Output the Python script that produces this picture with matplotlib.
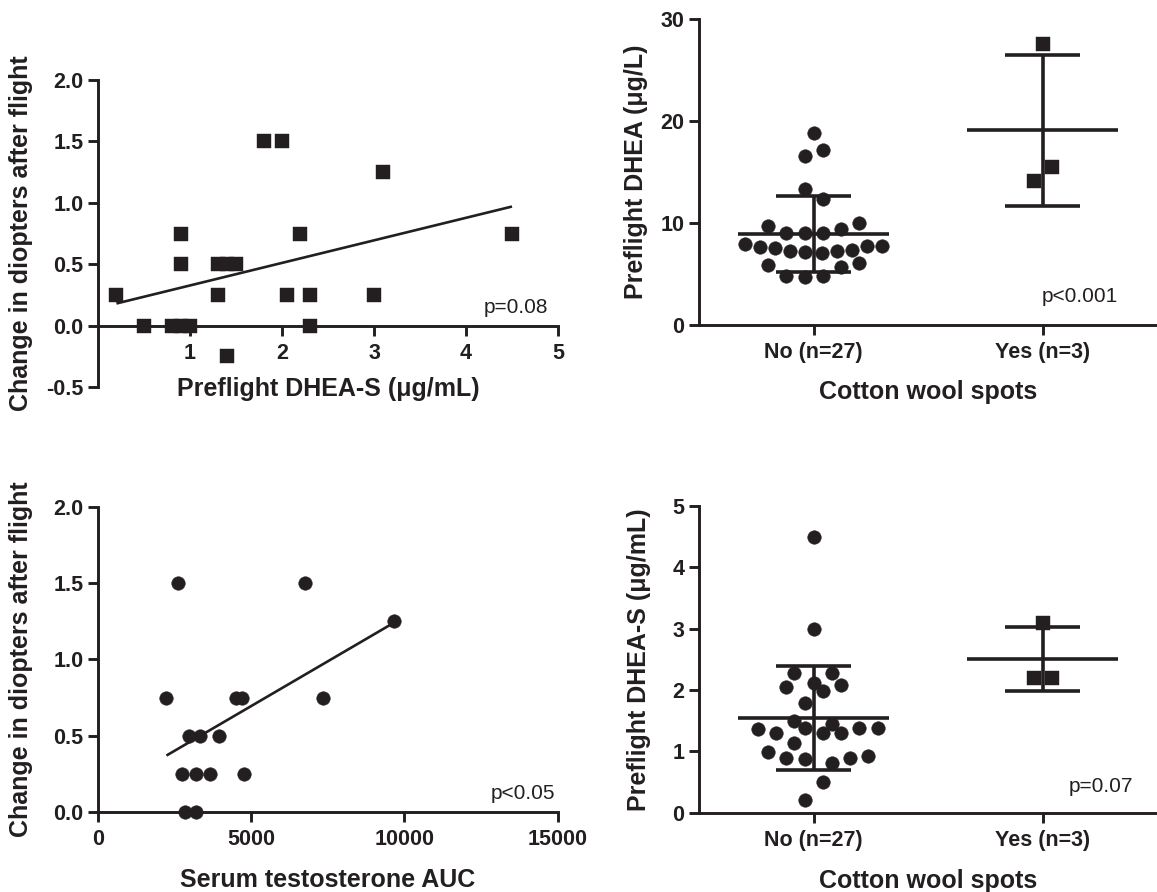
import numpy as np
import matplotlib
matplotlib.use("Agg")
import matplotlib.pyplot as plt
from matplotlib.ticker import FormatStrFormatter

plt.rcParams['font.family'] = ['Liberation Sans', 'DejaVu Sans']
plt.rcParams['axes.unicode_minus'] = False

INK = '#231f20'

# ---------------- data ----------------
# Panel A: Preflight DHEA-S vs change in diopters
dheas_x = [0.2, 0.5, 0.8, 0.9, 1.0, 0.9, 0.9, 1.3, 1.4, 1.5, 1.3, 1.4,
           1.8, 2.0, 2.2, 2.05, 2.3, 2.3, 3.0, 3.1, 4.5]
dheas_dy = [0.25, 0.0, 0.0, 0.0, 0.0, 0.75, 0.5, 0.5, 0.5, 0.5, 0.25, -0.25,
            1.5, 1.5, 0.75, 0.25, 0.25, 0.0, 0.25, 1.25, 0.75]
p_a = "p=0.08"

# Panel B: Preflight DHEA by cotton wool spots
groups = ["No (n=27)", "Yes (n=3)"]
dhea_no = [18.79, 17.16, 16.57, 13.33, 12.35, 9.71, 10.03, 9.05, 9.05, 9.05,
           9.38, 7.94, 7.68, 7.52, 7.29, 7.13, 7.03, 7.29, 7.35, 7.75, 7.7,
           5.88, 5.72, 6.11, 4.8, 4.67, 4.8]
dhea_no_spread = [0.0, 0.041, -0.039, -0.039, 0.041, -0.199, 0.2, -0.119, -0.039, 0.041,
                  0.12, -0.30, -0.235, -0.167, -0.101, -0.036, 0.036, 0.101, 0.167, 0.232, 0.30,
                  -0.199, 0.12, 0.2, -0.119, -0.039, 0.041]
dhea_yes = [27.55, 15.52, 14.15]
dhea_yes_spread = [0.0, 0.04, -0.037]
p_b = "p<0.001"

# Panel C: Serum testosterone AUC vs change in diopters
testo_x = [2625, 6743, 9651, 2233, 4500, 4695, 7330, 2970, 3333, 3964,
           2735, 3203, 3660, 4750, 2843, 3190]
testo_dy = [1.5, 1.5, 1.25, 0.75, 0.75, 0.75, 0.75, 0.5, 0.5, 0.5,
            0.25, 0.25, 0.25, 0.25, 0.0, 0.0]
p_c = "p<0.05"

# Panel D: Preflight DHEA-S by cotton wool spots
dheas_no = [2.284, 2.284, 2.12, 2.046, 2.08, 1.99, 1.79, 1.50, 1.447, 1.365,
            1.387, 1.387, 1.387, 1.295, 1.295, 1.305, 1.14, 0.995, 0.897, 0.875,
            0.897, 0.925, 0.806, 0.506, 0.207, 4.5, 3.0]
dheas_no_spread = [-0.083, 0.081, 0.0, -0.119, 0.12, 0.041, -0.039, -0.083, 0.081, -0.242,
                   -0.039, 0.2, 0.28, -0.162, 0.041, 0.12, -0.083, -0.199, -0.119, -0.039,
                   0.159, 0.239, 0.081, 0.041, -0.039, 0.0, 0.0]
dheas_yes = [3.10, 2.2, 2.2]
dheas_yes_spread = [0.0, -0.037, 0.04]
p_d = "p=0.07"

# ---------------- styling ----------------
TICK_FS = 15.5
LABEL_FS = 18
P_FS = 15
SPINE_W = 2.1
MS = 9.8

fig = plt.figure(figsize=(11.57, 8.92), dpi=100)
W, H = 1157, 892


def add_ax(x0, x1, ytop, ybot):
    return fig.add_axes([x0 / W, (H - ybot) / H, (x1 - x0) / W, (ybot - ytop) / H])


def style(ax):
    for s in ['top', 'right']:
        ax.spines[s].set_visible(False)
    for s in ['left', 'bottom']:
        ax.spines[s].set_linewidth(SPINE_W)
        ax.spines[s].set_color(INK)
    ax.tick_params(direction='out', length=7, width=SPINE_W, color=INK,
                   labelsize=TICK_FS, labelcolor=INK)
    ax.tick_params(axis='y', pad=3.5)
    ax.tick_params(axis='x', pad=5.5)
    for lab in ax.get_xticklabels() + ax.get_yticklabels():
        lab.set_fontweight('bold')


def fit_line(ax, x, y):
    x = np.asarray(x, float)
    y = np.asarray(y, float)
    k, b = np.polyfit(x, y, 1)
    xs = np.array([x.min(), x.max()])
    ax.plot(xs, k * xs + b, color=INK, lw=1.9, solid_capstyle='butt', zorder=2)


def group_plot(ax, vals, spread, pos, marker):
    v = np.asarray(vals, float)
    ax.plot(pos + np.asarray(spread), v, linestyle='none', marker=marker, ms=MS,
            color=INK, mec=INK, mew=0.3, zorder=3, clip_on=False)
    m = v.mean()
    sd = v.std(ddof=1)
    ax.hlines(m, pos - 0.33, pos + 0.33, color=INK, lw=2.6, zorder=4)
    ax.hlines([m - sd, m + sd], pos - 0.165, pos + 0.165, color=INK, lw=2.6, zorder=4)
    ax.vlines(pos, m - sd, m + sd, color=INK, lw=2.6, zorder=4)


# ---- Panel A ----
axA = add_ax(98, 558, 80, 387)
axA.plot(dheas_x, dheas_dy, linestyle='none', marker='s', ms=MS, color=INK,
         mec=INK, mew=0.3, zorder=3, clip_on=False)
fit_line(axA, dheas_x, dheas_dy)
axA.set_xlim(0, 5)
axA.set_ylim(-0.5, 2.0)
axA.spines['bottom'].set_position(('data', 0))
axA.set_xticks([1, 2, 3, 4, 5])
axA.set_yticks([-0.5, 0.0, 0.5, 1.0, 1.5, 2.0])
axA.yaxis.set_major_formatter(FormatStrFormatter('%.1f'))
style(axA)
axA.set_xlabel("Preflight DHEA-S (\u03bcg/mL)", fontsize=LABEL_FS, fontweight='bold', color=INK)
axA.set_ylabel("Change in diopters after flight", fontsize=LABEL_FS, fontweight='bold', color=INK)
axA.xaxis.set_label_coords(0.5, 0.033)
axA.yaxis.set_label_coords(-0.141, 0.5)
axA.text(0.978, 0.26, p_a, transform=axA.transAxes, ha='right', va='center',
         fontsize=P_FS, color=INK)

# ---- Panel B ----
axB = add_ax(699, 1157, 19, 325)
group_plot(axB, dhea_no, dhea_no_spread, 0, 'o')
group_plot(axB, dhea_yes, dhea_yes_spread, 1, 's')
axB.set_xlim(-0.5, 1.5)
axB.set_ylim(0, 30)
axB.set_xticks([0, 1])
axB.set_xticklabels(groups)
axB.set_yticks([0, 10, 20, 30])
style(axB)
axB.set_xlabel("Cotton wool spots", fontsize=LABEL_FS, fontweight='bold', color=INK)
axB.set_ylabel("Preflight DHEA (\u03bcg/L)", fontsize=LABEL_FS, fontweight='bold', color=INK)
axB.xaxis.set_label_coords(0.5, -0.18)
axB.yaxis.set_label_coords(-0.111, 0.5)
axB.text(0.915, 0.0925, p_b, transform=axB.transAxes, ha='right', va='center',
         fontsize=P_FS, color=INK)

# ---- Panel C ----
axC = add_ax(98, 557.7, 506.7, 812)
axC.plot(testo_x, testo_dy, linestyle='none', marker='o', ms=MS, color=INK,
         mec=INK, mew=0.3, zorder=3, clip_on=False)
fit_line(axC, testo_x, testo_dy)
axC.set_xlim(0, 15000)
axC.set_ylim(0, 2.0)
axC.set_xticks([0, 5000, 10000, 15000])
axC.set_yticks([0.0, 0.5, 1.0, 1.5, 2.0])
axC.yaxis.set_major_formatter(FormatStrFormatter('%.1f'))
style(axC)
axC.set_xlabel("Serum testosterone AUC", fontsize=LABEL_FS, fontweight='bold', color=INK)
axC.set_ylabel("Change in diopters after flight", fontsize=LABEL_FS, fontweight='bold', color=INK)
axC.xaxis.set_label_coords(0.5, -0.183)
axC.yaxis.set_label_coords(-0.141, 0.5)
axC.text(0.994, 0.062, p_c, transform=axC.transAxes, ha='right', va='center',
         fontsize=P_FS, color=INK)

# ---- Panel D ----
axD = add_ax(699, 1157, 506, 812.7)
group_plot(axD, dheas_no, dheas_no_spread, 0, 'o')
group_plot(axD, dheas_yes, dheas_yes_spread, 1, 's')
axD.set_xlim(-0.5, 1.5)
axD.set_ylim(0, 5)
axD.set_xticks([0, 1])
axD.set_xticklabels(groups)
axD.set_yticks([0, 1, 2, 3, 4, 5])
style(axD)
axD.set_xlabel("Cotton wool spots", fontsize=LABEL_FS, fontweight='bold', color=INK)
axD.set_ylabel("Preflight DHEA-S (\u03bcg/mL)", fontsize=LABEL_FS, fontweight='bold', color=INK)
axD.xaxis.set_label_coords(0.5, -0.183)
axD.yaxis.set_label_coords(-0.104, 0.5)
axD.text(0.948, 0.085, p_d, transform=axD.transAxes, ha='right', va='center',
         fontsize=P_FS, color=INK)

fig.savefig("out.png", dpi=100, facecolor='white')
